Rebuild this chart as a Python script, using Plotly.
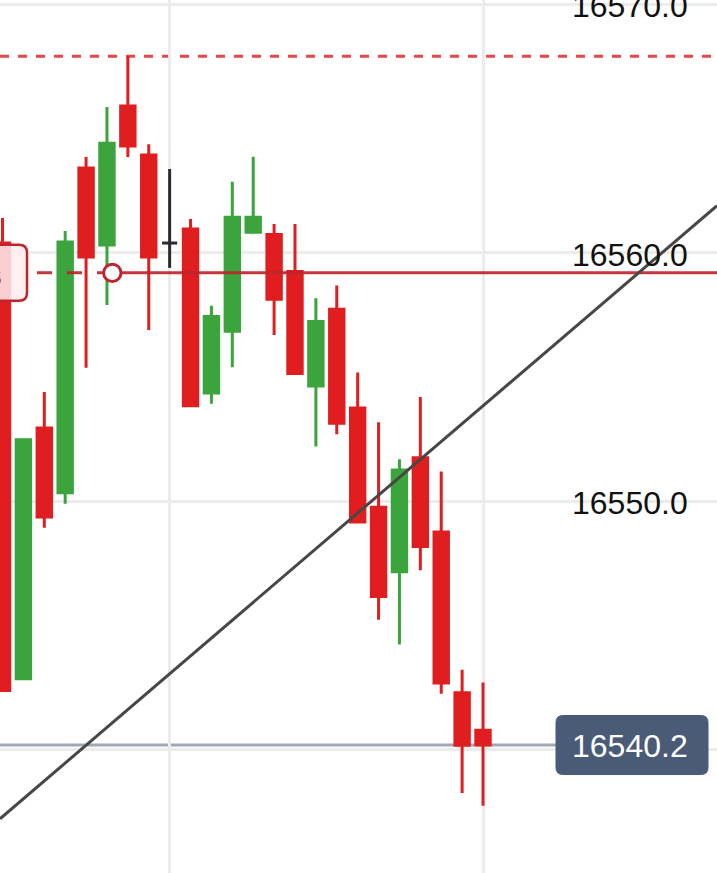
import plotly.graph_objects as go

# ---------------- data ----------------
IDX = list(range(24))
OPEN = [16560.40, 16542.87, 16552.96, 16550.35, 16563.42, 16560.32, 16565.91, 16563.94,
        16560.40, 16560.96, 16554.37, 16556.85, 16560.83, 16560.74, 16559.25, 16554.65,
        16557.74, 16553.76, 16549.77, 16547.17, 16551.76, 16548.77, 16542.30, 16540.79]
HIGH = [16561.41, 16552.48, 16554.41, 16560.88, 16563.86, 16565.87, 16567.92, 16564.38,
        16563.38, 16561.37, 16557.88, 16562.87, 16563.87, 16561.17, 16561.17, 16558.18,
        16558.69, 16555.19, 16553.19, 16551.70, 16554.20, 16551.21, 16543.23, 16542.72]
LOW = [16542.39, 16542.87, 16548.94, 16549.91, 16555.38, 16557.91, 16563.86, 16556.90,
       16559.40, 16553.85, 16553.93, 16555.40, 16560.83, 16556.70, 16555.15, 16552.21,
       16552.71, 16549.17, 16545.24, 16544.24, 16547.23, 16542.26, 16538.27, 16537.76]
CLOSE = [16542.39, 16552.48, 16549.38, 16560.44, 16559.84, 16564.42, 16564.30, 16559.84,
         16560.40, 16553.85, 16557.44, 16561.44, 16561.44, 16558.14, 16555.15, 16557.24,
         16553.15, 16549.17, 16546.18, 16551.27, 16548.19, 16542.70, 16540.19, 16540.20]

Y_TICKS = [16540, 16550, 16560, 16570]
Y_TICK_LABELS = ["16540.0", "16550.0", "16560.0", "16570.0"]
X_GRID = [8, 23]

ORDER_PRICE = 16559.2
ORDER_LABEL = "Sell 0.10 lots"
TREND_X = [-0.12, 34.20]
TREND_Y = [16537.23, 16561.90]
LAST_PRICE = CLOSE[-1]
MAX_HIGH = max(HIGH)

X_RANGE = [-0.12, 34.20]
Y_RANGE = [16535.05, 16570.18]

# ---------------- styles ----------------
RED = "#e01e1f"
GREEN = "#3ca43c"
DOJI = "#2a2a30"
GRID = "#ececec"
ORDER_RED = "#bd262c"
FONT = "Liberation Sans, Arial, Helvetica, sans-serif"

W, H = 717, 873

fig = go.Figure()

reg = [i for i in IDX if OPEN[i] != CLOSE[i]]
fig.add_trace(go.Candlestick(
    x=[IDX[i] for i in reg],
    open=[OPEN[i] for i in reg], high=[HIGH[i] for i in reg],
    low=[LOW[i] for i in reg], close=[CLOSE[i] for i in reg],
    increasing=dict(line=dict(color=GREEN, width=3), fillcolor=GREEN),
    decreasing=dict(line=dict(color=RED, width=3), fillcolor=RED),
    hoverinfo="skip", showlegend=False,
))

# doji candles (open == close) drawn as a cross
for i in IDX:
    if OPEN[i] == CLOSE[i]:
        fig.add_trace(go.Scatter(x=[IDX[i], IDX[i]], y=[LOW[i], HIGH[i]], mode="lines",
                                 line=dict(color=DOJI, width=3), hoverinfo="skip", showlegend=False))
        fig.add_trace(go.Scatter(x=[IDX[i] - 0.36, IDX[i] + 0.36], y=[OPEN[i], OPEN[i]], mode="lines",
                                 line=dict(color=DOJI, width=3), hoverinfo="skip", showlegend=False))


def rrect(x0, y0, x1, y1, r):
    return (f"M {x0 + r},{y0} L {x1 - r},{y0} Q {x1},{y0} {x1},{y0 + r} "
            f"L {x1},{y1 - r} Q {x1},{y1} {x1 - r},{y1} L {x0 + r},{y1} "
            f"Q {x0},{y1} {x0},{y1 - r} L {x0},{y0 + r} Q {x0},{y0} {x0 + r},{y0} Z")


shapes = []
shapes.append(dict(type="line", xref="paper", yref="y", x0=0, x1=1, y0=MAX_HIGH, y1=MAX_HIGH,
                   line=dict(color="#e8474a", width=3, dash="9px,9px"), layer="between"))
shapes.append(dict(type="line", xref="paper", yref="y", xsizemode="pixel", xanchor=1,
                   x0=-800, x1=-161, y0=LAST_PRICE, y1=LAST_PRICE,
                   line=dict(color="#a0a8b7", width=3), layer="between"))
shapes.append(dict(type="line", xref="paper", yref="y", xsizemode="pixel", xanchor=0,
                   x0=121, x1=900, y0=ORDER_PRICE, y1=ORDER_PRICE,
                   line=dict(color=ORDER_RED, width=3), opacity=0.92, layer="above"))
shapes.append(dict(type="line", xref="paper", yref="y", xsizemode="pixel", xanchor=0,
                   x0=37, x1=104, y0=ORDER_PRICE, y1=ORDER_PRICE,
                   line=dict(color=ORDER_RED, width=3, dash="15px,15px"), opacity=0.92, layer="above"))
shapes.append(dict(type="line", xref="x", yref="y", x0=TREND_X[0], x1=TREND_X[1],
                   y0=TREND_Y[0], y1=TREND_Y[1], line=dict(color="#474747", width=3), layer="above"))
shapes.append(dict(type="circle", xref="paper", yref="y", xsizemode="pixel", ysizemode="pixel",
                   xanchor=0, yanchor=ORDER_PRICE, x0=112.3 - 8.7, x1=112.3 + 8.7, y0=-8.7, y1=8.7,
                   fillcolor="white", line=dict(color=ORDER_RED, width=3), layer="above"))
shapes.append(dict(type="path", xref="paper", yref="y", xsizemode="pixel", ysizemode="pixel",
                   xanchor=0, yanchor=ORDER_PRICE, path=rrect(-40, -28, 27, 28, 8),
                   fillcolor="rgba(255,238,238,0.85)", line=dict(color=ORDER_RED, width=2.5),
                   layer="above"))
shapes.append(dict(type="path", xref="paper", yref="y", xsizemode="pixel", ysizemode="pixel",
                   xanchor=1, yanchor=LAST_PRICE, path=rrect(-161, -29.5, -9, 29.5, 7),
                   fillcolor="#4a5b78", line=dict(color="#4a5b78", width=1), layer="above"))

annotations = []
for v, t in zip(Y_TICKS, Y_TICK_LABELS):
    if abs(v - LAST_PRICE) < 1.5:
        continue  # hidden behind the last-price label, as in the original
    annotations.append(dict(xref="paper", yref="y", x=1, y=v, xanchor="right", yanchor="middle",
                            xshift=-27, yshift=-2, text=t, showarrow=False,
                            font=dict(family=FONT, size=32, color="#111111")))
annotations.append(dict(xref="paper", yref="y", x=1, y=LAST_PRICE, xanchor="right", yanchor="middle",
                        xshift=-27, yshift=-1, text=f"{LAST_PRICE:.1f}", showarrow=False,
                        font=dict(family=FONT, size=32, color="white")))
annotations.append(dict(xref="paper", yref="y", x=0, y=ORDER_PRICE, xanchor="right", yanchor="middle",
                        xshift=4, yshift=-2, text=ORDER_LABEL, showarrow=False,
                        font=dict(family=FONT, size=30, color="#9e2a2a")))

fig.update_layout(
    width=W, height=H,
    margin=dict(l=0, r=0, t=0, b=0, pad=0),
    paper_bgcolor="white", plot_bgcolor="white",
    showlegend=False, hovermode=False,
    boxgap=0.0, boxgroupgap=0.31,
    shapes=shapes, annotations=annotations,
    xaxis=dict(range=X_RANGE, tickvals=X_GRID, showticklabels=False, showgrid=True,
               gridcolor=GRID, gridwidth=3, zeroline=False, showline=False, ticks="",
               rangeslider=dict(visible=False), fixedrange=True),
    yaxis=dict(range=Y_RANGE, tickvals=Y_TICKS, showticklabels=False, showgrid=True,
               gridcolor=GRID, gridwidth=3, zeroline=False, showline=False, ticks="",
               fixedrange=True),
)

fig.write_html("out.html", config={"displayModeBar": False},
               post_script="document.body.style.margin='0px';document.body.style.overflow='hidden';")
